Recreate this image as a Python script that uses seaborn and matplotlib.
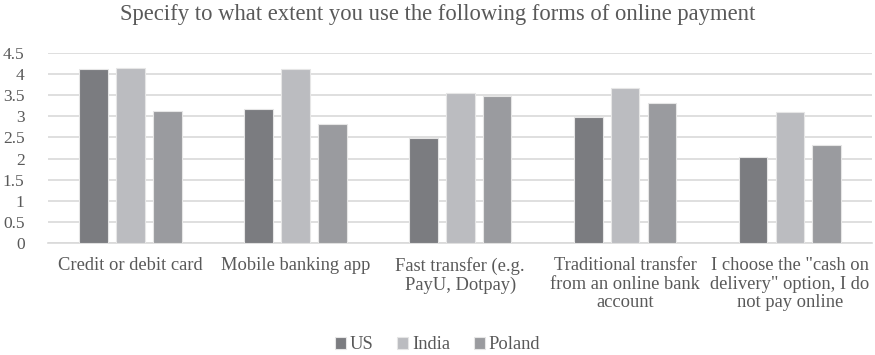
import matplotlib
matplotlib.use("Agg")
import matplotlib.pyplot as plt
import seaborn as sns
import pandas as pd

categories = [
    "Credit or debit card",
    "Mobile banking app",
    "Fast transfer (e.g.\nPayU, Dotpay)",
    "Traditional transfer\nfrom an online bank\naccount",
    "I choose the \"cash on\ndelivery\" option, I do\nnot pay online",
]
countries = ["US", "India", "Poland"]
us_values = [4.12, 3.18, 2.48, 2.99, 2.04]
india_values = [4.14, 4.13, 3.56, 3.68, 3.11]
poland_values = [3.12, 2.83, 3.47, 3.32, 2.33]
y_ticks = [0, 0.5, 1, 1.5, 2, 2.5, 3, 3.5, 4, 4.5]
y_tick_labels = ["0", "0.5", "1", "1.5", "2", "2.5", "3", "3.5", "4", "4.5"]

df = pd.DataFrame({
    "category": categories * 3,
    "country": ["US"] * 5 + ["India"] * 5 + ["Poland"] * 5,
    "value": us_values + india_values + poland_values,
})

sns.set_theme(style="white")
serif = ["Liberation Serif", "DejaVu Serif"]
plt.rcParams["font.family"] = serif

text_color = "#595959"
palette = {"US": "#7b7c80", "India": "#bbbcc0", "Poland": "#9a9b9f"}

fig = plt.figure(figsize=(8.75, 3.55), dpi=100)
ax = fig.add_axes([0.055, 0.315, 0.942, 0.536])

sns.barplot(data=df, x="category", y="value", hue="country",
            hue_order=countries, order=categories, palette=palette,
            width=0.67, gap=0.22, edgecolor="#e6e6e6", linewidth=0.8,
            saturation=1, ax=ax, zorder=3)

ax.set_ylim(0, 4.5)
ax.set_xlim(-0.5, 4.5)
ax.set_yticks(y_ticks)
ax.set_yticklabels(y_tick_labels)
ax.yaxis.grid(True, color="#d9d9d9", linewidth=1.2, zorder=0)
ax.set_axisbelow(True)
for side in ["top", "right", "left"]:
    ax.spines[side].set_visible(False)
ax.spines["bottom"].set_color("#d9d9d9")
ax.spines["bottom"].set_linewidth(1.2)
ax.tick_params(axis="both", length=0, colors=text_color)
ax.tick_params(axis="y", pad=17, labelsize=12.5)
ax.tick_params(axis="x", pad=10, labelsize=13.3)
for lbl in ax.get_xticklabels():
    lbl.set_horizontalalignment("center")
    lbl.set_multialignment("center")
    lbl.set_linespacing(1.12)
ax.set_xlabel("")
ax.set_ylabel("")

fig.suptitle("Specify to what extent you use the following forms of online payment",
             x=0.5, y=0.99, fontsize=16.3, color=text_color)

handles, labels = ax.get_legend_handles_labels()
ax.legend_.remove()
leg = fig.legend(handles, labels, loc="lower center", bbox_to_anchor=(0.5, -0.042),
                 ncol=3, frameon=False, fontsize=13.3, handlelength=0.6,
                 handleheight=0.6, handletextpad=0.2, columnspacing=1.3)
for t in leg.get_texts():
    t.set_fontfamily(serif)
    t.set_color(text_color)

fig.savefig("out.png", dpi=100)
